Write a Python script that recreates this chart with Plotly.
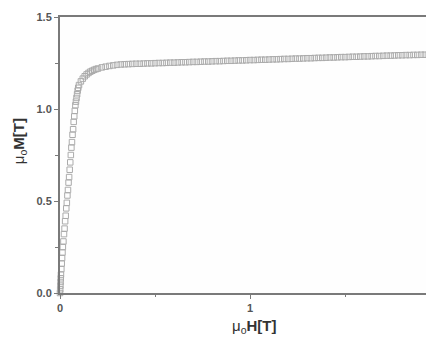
import plotly.graph_objects as go

# Magnetisation curve: applied field mu0*H [T] vs magnetisation mu0*M [T]
H_steep = [0.000, 0.001, 0.002, 0.003, 0.004, 0.005, 0.007, 0.009, 0.011, 0.013,
           0.015, 0.018, 0.021, 0.024, 0.027, 0.030, 0.033, 0.036, 0.039, 0.042,
           0.045, 0.048, 0.051, 0.054, 0.057, 0.060, 0.063, 0.066, 0.069, 0.072,
           0.075, 0.078, 0.081, 0.084, 0.087, 0.090, 0.093, 0.096, 0.100]
M_steep = [0.00, 0.02, 0.04, 0.06, 0.08, 0.10, 0.13, 0.16, 0.19, 0.22,
           0.25, 0.28, 0.32, 0.35, 0.39, 0.42, 0.46, 0.49, 0.53, 0.56,
           0.60, 0.63, 0.67, 0.71, 0.75, 0.79, 0.82, 0.86, 0.89, 0.93,
           0.96, 0.99, 1.02, 1.04, 1.06, 1.08, 1.10, 1.115, 1.13]

H_knee = [0.110, 0.120, 0.130, 0.140, 0.150, 0.160, 0.170, 0.180, 0.190, 0.200,
          0.220, 0.240, 0.260, 0.280, 0.300]
M_knee = [1.150, 1.165, 1.178, 1.188, 1.196, 1.203, 1.208, 1.213, 1.217, 1.220,
          1.226, 1.230, 1.234, 1.237, 1.240]

H_flat = [0.32, 0.34, 0.36, 0.38, 0.40, 0.42, 0.44, 0.46, 0.48, 0.50,
          0.52, 0.54, 0.56, 0.58, 0.60, 0.62, 0.64, 0.66, 0.68, 0.70,
          0.72, 0.74, 0.76, 0.78, 0.80, 0.82, 0.84, 0.86, 0.88, 0.90,
          0.92, 0.94, 0.96, 0.98, 1.00, 1.02, 1.04, 1.06, 1.08, 1.10,
          1.12, 1.14, 1.16, 1.18, 1.20, 1.22, 1.24, 1.26, 1.28, 1.30,
          1.32, 1.34, 1.36, 1.38, 1.40, 1.42, 1.44, 1.46, 1.48, 1.50,
          1.52, 1.54, 1.56, 1.58, 1.60, 1.62, 1.64, 1.66, 1.68, 1.70,
          1.72, 1.74, 1.76, 1.78, 1.80, 1.82, 1.84, 1.86, 1.88, 1.90,
          1.92, 1.94, 1.96]
M_flat = [1.242, 1.243, 1.244, 1.245, 1.246, 1.246, 1.247, 1.248, 1.248, 1.249,
          1.250, 1.250, 1.251, 1.252, 1.252, 1.253, 1.254, 1.254, 1.255, 1.256,
          1.256, 1.257, 1.258, 1.258, 1.259, 1.260, 1.260, 1.261, 1.262, 1.262,
          1.263, 1.264, 1.264, 1.265, 1.266, 1.266, 1.267, 1.268, 1.268, 1.269,
          1.270, 1.270, 1.271, 1.272, 1.272, 1.273, 1.274, 1.274, 1.275, 1.276,
          1.276, 1.277, 1.278, 1.278, 1.279, 1.280, 1.280, 1.281, 1.282, 1.282,
          1.283, 1.284, 1.284, 1.285, 1.286, 1.286, 1.287, 1.288, 1.288, 1.289,
          1.290, 1.290, 1.291, 1.292, 1.292, 1.293, 1.293, 1.294, 1.294, 1.295,
          1.295, 1.296, 1.296]

H = H_steep + H_knee + H_flat
M = M_steep + M_knee + M_flat

x_ticks = [0, 1]
x_ticklabels = ["0", "1"]
y_ticks = [0.0, 0.5, 1.0, 1.5]
y_ticklabels = ["0.0", "0.5", "1.0", "1.5"]
x_title = "μ<sub>o</sub><b>H[T]</b>"
y_title = "μ<sub>o</sub><b>M[T]</b>"

axis_col = "#7a7a7a"
text_col = "#555555"
title_col = "#333333"

fig = go.Figure()
fig.add_trace(go.Scatter(
    x=H, y=M, mode="markers",
    marker=dict(symbol="square-open", size=5.5, color="#ababab",
                line=dict(width=1, color="#ababab")),
    cliponaxis=False, showlegend=False,
))

fig.update_layout(
    width=426, height=330,
    margin=dict(l=52, r=0, t=9, b=45, autoexpand=False),
    paper_bgcolor="#ffffff", plot_bgcolor="#fefefe",
    font=dict(family="Liberation Sans, Arial, sans-serif", color=text_col),
    annotations=[
        dict(text=x_title, xref="paper", yref="paper", x=0.521, y=0,
             yshift=-33, xanchor="center", yanchor="middle", showarrow=False,
             font=dict(size=15, color=title_col)),
        dict(text=y_title, xref="paper", yref="paper", x=0, y=0.55,
             xshift=-41, xanchor="center", yanchor="middle", showarrow=False,
             textangle=-90, font=dict(size=15, color=title_col)),
    ],
)
fig.update_xaxes(
    range=[0, 1.968], tickvals=x_ticks, ticktext=x_ticklabels, automargin=False,
    showgrid=False, zeroline=False,
    showline=True, linecolor=axis_col, linewidth=2, mirror=True,
    ticks="outside", ticklen=4, tickcolor=axis_col, tickwidth=1,
    minor=dict(tickvals=[0.5, 1.5], ticks="outside", ticklen=2, tickcolor=axis_col),
    tickfont=dict(size=11, color=text_col, weight="bold"),
)
fig.update_yaxes(
    range=[0, 1.5], tickvals=y_ticks, ticktext=y_ticklabels, automargin=False,
    showgrid=False, zeroline=False,
    showline=True, linecolor=axis_col, linewidth=2, mirror=False,
    ticks="outside", ticklen=4, tickcolor=axis_col, tickwidth=1,
    minor=dict(tickvals=[0.25, 0.75, 1.25], ticks="outside", ticklen=3, tickcolor=axis_col),
    tickfont=dict(size=11, color=text_col, weight="bold"),
)

fig.write_html("out.html")
